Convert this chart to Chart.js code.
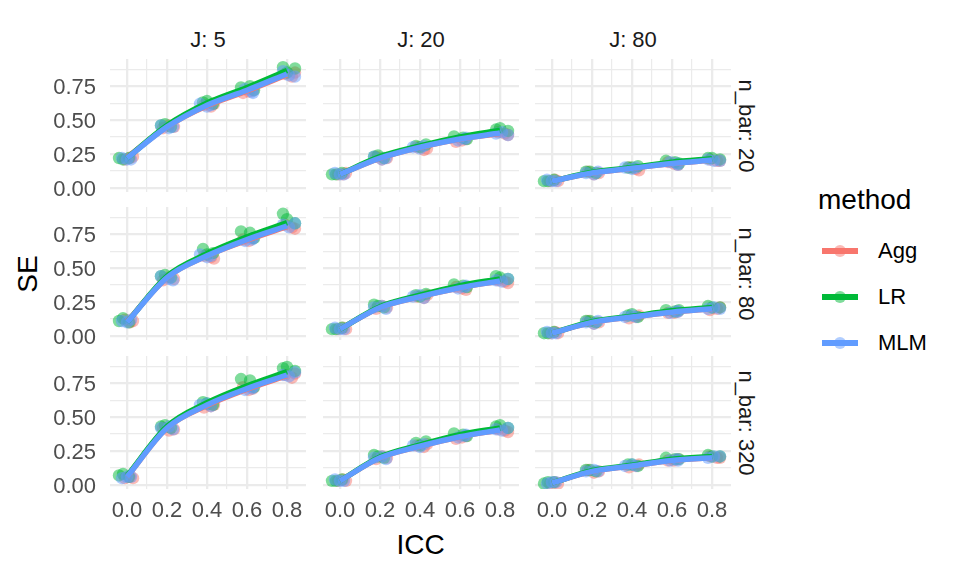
<!DOCTYPE html>
<html>
<head>
<meta charset="utf-8">
<script src="https://cdn.jsdelivr.net/npm/chart.js@4.4.1/dist/chart.umd.min.js"></script>
<style>
  body { margin: 0; background: #fff; font-family: "Liberation Sans", Arial, sans-serif; }
  #wrap { position: relative; width: 960px; height: 576px; overflow: hidden; }
  canvas { position: absolute; }
  .txt { position: absolute; white-space: nowrap; transform: translate(-50%, -50%); line-height: 1; }
  .strip { font-size: 22px; color: #1a1a1a; }
  .title { font-size: 28px; color: #000; }
  .key { position: absolute; width: 36px; height: 12px; }
  .key .dot { position: absolute; left: 12px; top: 0; width: 12px; height: 12px; border-radius: 50%; }
  .key .bar { position: absolute; left: 0; top: 3.25px; width: 36px; height: 5.5px; }
  .lab { position: absolute; font-size: 22px; color: #000; transform: translateY(-50%); line-height: 1; }
</style>
</head>
<body>
<div id="wrap"></div>
<script>
// facets
const jValues = [5, 20, 80];
const nBarValues = [20, 80, 320];
const methods = ["Agg", "LR", "MLM"];
const colors = ["#F8766D", "#00BA38", "#619CFF"];
const dotColors = ["rgba(248,118,109,0.5)", "rgba(0,186,56,0.5)", "rgba(97,156,255,0.5)"];

// x: ICC levels, tick labels and grid
const iccLevels = [0, 0.2, 0.4, 0.6, 0.8];
const xMajor = [0, 0.2, 0.4, 0.6, 0.8];
const xGrid = [0, 0.1, 0.2, 0.3, 0.4, 0.5, 0.6, 0.7, 0.8];
const yMajor = [0, 0.25, 0.5, 0.75];
const yGrid = [0, 0.125, 0.25, 0.375, 0.5, 0.625, 0.75, 0.875];

// smooth lines, one row per panel (J: 5, 20, 80 for n_bar 20, then 80, then 320)
const aggLine = [
  [0.225, 0.45, 0.605, 0.715, 0.835],
  [0.10, 0.22, 0.30, 0.36, 0.40],
  [0.05, 0.11, 0.145, 0.18, 0.205],
  [0.105, 0.43, 0.59, 0.705, 0.805],
  [0.05, 0.21, 0.29, 0.355, 0.405],
  [0.02, 0.10, 0.14, 0.175, 0.20],
  [0.06, 0.42, 0.585, 0.705, 0.805],
  [0.03, 0.20, 0.285, 0.355, 0.405],
  [0.015, 0.10, 0.14, 0.18, 0.20]
];
const lrLine = [
  [0.22, 0.46, 0.625, 0.74, 0.865],
  [0.10, 0.23, 0.31, 0.375, 0.425],
  [0.05, 0.115, 0.15, 0.19, 0.215],
  [0.10, 0.44, 0.605, 0.73, 0.835],
  [0.05, 0.215, 0.30, 0.37, 0.42],
  [0.02, 0.105, 0.145, 0.185, 0.21],
  [0.065, 0.43, 0.605, 0.73, 0.835],
  [0.03, 0.205, 0.295, 0.37, 0.42],
  [0.015, 0.105, 0.145, 0.19, 0.21]
];
const mlmLine = [
  [0.22, 0.45, 0.61, 0.72, 0.84],
  [0.10, 0.22, 0.30, 0.36, 0.405],
  [0.05, 0.11, 0.145, 0.18, 0.205],
  [0.10, 0.43, 0.59, 0.71, 0.81],
  [0.05, 0.21, 0.29, 0.355, 0.405],
  [0.02, 0.10, 0.14, 0.175, 0.20],
  [0.06, 0.42, 0.59, 0.71, 0.81],
  [0.03, 0.20, 0.285, 0.355, 0.405],
  [0.015, 0.10, 0.14, 0.18, 0.20]
];

// points: per panel, per ICC level, three replicates
const aggPts = [
  [[0.23,0.22,0.21],[0.45,0.44,0.46],[0.60,0.61,0.62],[0.71,0.72,0.70],[0.82,0.84,0.85]],
  [[0.11,0.10,0.10],[0.22,0.23,0.21],[0.28,0.30,0.29],[0.35,0.36,0.34],[0.40,0.41,0.39]],
  [[0.05,0.06,0.05],[0.11,0.12,0.10],[0.14,0.15,0.13],[0.18,0.17,0.19],[0.20,0.21,0.20]],
  [[0.11,0.10,0.12],[0.42,0.41,0.43],[0.58,0.59,0.57],[0.70,0.72,0.71],[0.80,0.82,0.79]],
  [[0.05,0.06,0.05],[0.21,0.20,0.22],[0.28,0.29,0.30],[0.35,0.34,0.36],[0.40,0.41,0.39]],
  [[0.02,0.03,0.02],[0.10,0.11,0.09],[0.14,0.13,0.15],[0.17,0.18,0.17],[0.20,0.19,0.21]],
  [[0.05,0.06,0.05],[0.41,0.42,0.40],[0.58,0.57,0.59],[0.70,0.71,0.72],[0.79,0.81,0.82]],
  [[0.03,0.04,0.03],[0.20,0.19,0.21],[0.28,0.29,0.30],[0.35,0.36,0.34],[0.40,0.41,0.39]],
  [[0.01,0.02,0.01],[0.10,0.11,0.09],[0.14,0.13,0.15],[0.18,0.19,0.18],[0.20,0.21,0.20]]
];
const lrPts = [
  [[0.22,0.21,0.22],[0.47,0.45,0.46],[0.63,0.62,0.64],[0.74,0.75,0.72],[0.89,0.88,0.85]],
  [[0.10,0.10,0.11],[0.24,0.22,0.23],[0.31,0.32,0.30],[0.38,0.37,0.36],[0.43,0.42,0.44]],
  [[0.05,0.05,0.06],[0.12,0.11,0.12],[0.15,0.16,0.15],[0.20,0.19,0.18],[0.22,0.21,0.22]],
  [[0.11,0.13,0.10],[0.45,0.43,0.44],[0.64,0.61,0.60],[0.77,0.76,0.72],[0.90,0.83,0.86]],
  [[0.05,0.05,0.06],[0.22,0.21,0.23],[0.30,0.31,0.29],[0.38,0.37,0.36],[0.44,0.42,0.43]],
  [[0.02,0.02,0.03],[0.11,0.10,0.11],[0.15,0.14,0.16],[0.19,0.18,0.19],[0.22,0.21,0.21]],
  [[0.07,0.08,0.06],[0.44,0.42,0.43],[0.61,0.59,0.60],[0.78,0.77,0.72],[0.86,0.84,0.87]],
  [[0.03,0.03,0.04],[0.21,0.20,0.22],[0.31,0.32,0.29],[0.38,0.37,0.36],[0.43,0.42,0.44]],
  [[0.01,0.02,0.02],[0.11,0.10,0.11],[0.15,0.14,0.15],[0.20,0.19,0.19],[0.22,0.21,0.21]]
];
const mlmPts = [
  [[0.21,0.22,0.21],[0.46,0.44,0.45],[0.62,0.60,0.61],[0.71,0.73,0.70],[0.86,0.83,0.82]],
  [[0.10,0.11,0.10],[0.23,0.21,0.22],[0.30,0.29,0.31],[0.36,0.35,0.37],[0.40,0.41,0.39]],
  [[0.05,0.06,0.05],[0.11,0.10,0.12],[0.15,0.14,0.15],[0.18,0.19,0.17],[0.21,0.20,0.20]],
  [[0.10,0.11,0.12],[0.44,0.42,0.41],[0.60,0.58,0.59],[0.71,0.70,0.72],[0.82,0.80,0.83]],
  [[0.05,0.06,0.05],[0.21,0.22,0.20],[0.29,0.30,0.28],[0.36,0.35,0.37],[0.41,0.40,0.42]],
  [[0.02,0.03,0.02],[0.10,0.09,0.11],[0.14,0.15,0.14],[0.18,0.17,0.18],[0.20,0.21,0.20]],
  [[0.06,0.05,0.06],[0.42,0.43,0.41],[0.59,0.60,0.58],[0.71,0.70,0.72],[0.81,0.80,0.83]],
  [[0.03,0.04,0.03],[0.20,0.21,0.19],[0.29,0.28,0.30],[0.36,0.35,0.37],[0.41,0.40,0.42]],
  [[0.02,0.01,0.02],[0.10,0.11,0.10],[0.14,0.15,0.14],[0.19,0.18,0.18],[0.20,0.21,0.21]]
];

// horizontal jitter of the points
const aggJitter = [[0.03,0.015,-0.01],[0.035,-0.02,0.01],[0.02,-0.015,0.035],[0.01,0.03,-0.02],[0.025,-0.01,0.04]];
const lrJitter = [[-0.04,-0.02,0.01],[-0.01,0.02,-0.03],[-0.02,0.03,0.0],[-0.03,0.015,0.035],[-0.02,0.04,0.0]];
const mlmJitter = [[0.0,-0.025,0.02],[-0.03,0.01,0.03],[-0.035,0.0,0.02],[0.025,-0.01,0.03],[-0.02,0.01,0.04]];

const lines = [aggLine, lrLine, mlmLine];
const pts = [aggPts, lrPts, mlmPts];
const jitters = [aggJitter, lrJitter, mlmJitter];

// panel geometry
const panelLeft = [110, 323, 535];
const panelTop = [59, 207, 356];
const panelW = 196, panelH = 133;
const xMin = -0.085, xMax = 0.895, yMin = -0.03, yMax = 0.95;
const gridColor = "#EBEBEB";
const tickFont = { family: "'Liberation Sans', Arial, sans-serif", size: 22 };

const wrap = document.getElementById("wrap");

function addText(cls, text, x, y, rotate) {
  const d = document.createElement("div");
  d.className = "txt " + cls;
  d.textContent = text;
  d.style.left = x + "px";
  d.style.top = y + "px";
  if (rotate) d.style.transform = "translate(-50%, -50%) rotate(" + rotate + "deg)";
  wrap.appendChild(d);
}

function zeroPad(s) {
  s.paddingLeft = 0; s.paddingRight = 0; s.paddingTop = 0; s.paddingBottom = 0;
}

function buildPanel(row, col) {
  const p = row * 3 + col;
  const showY = col === 0, showX = row === 2;
  const yAxisW = showY ? 60 : 0;
  const xAxisH = showX ? 40 : 0;
  const padBottom = showX ? 0 : 15;

  const canvas = document.createElement("canvas");
  canvas.width = panelW + yAxisW;
  canvas.height = panelH + xAxisH + padBottom;
  canvas.style.left = (panelLeft[col] - yAxisW) + "px";
  canvas.style.top = panelTop[row] + "px";
  wrap.appendChild(canvas);

  const datasets = [];
  // lines: MLM on top, then LR, then Agg
  for (let m = 0; m < 3; m++) {
    datasets.push({
      label: methods[m] + " smooth",
      data: iccLevels.map((x, i) => ({ x: x, y: lines[m][p][i] })),
      showLine: true,
      borderColor: colors[m],
      borderWidth: 5.5,
      pointRadius: 0,
      cubicInterpolationMode: "monotone",
      order: 2 - m
    });
  }
  // points under the lines
  for (let m = 0; m < 3; m++) {
    const data = [];
    iccLevels.forEach((x, i) => {
      pts[m][p][i].forEach((y, k) => data.push({ x: x + jitters[m][i][k], y: y }));
    });
    datasets.push({
      label: methods[m],
      data: data,
      showLine: false,
      pointRadius: 6.2,
      pointBorderWidth: 0,
      backgroundColor: dotColors[m],
      order: 5 - m
    });
  }

  new Chart(canvas, {
    type: "scatter",
    data: { datasets: datasets },
    options: {
      responsive: false,
      animation: false,
      layout: { autoPadding: false, padding: { left: 0, right: 0, top: 0, bottom: padBottom } },
      plugins: { legend: { display: false }, tooltip: { enabled: false } },
      scales: {
        x: {
          type: "linear",
          min: xMin,
          max: xMax,
          afterBuildTicks: (s) => { s.ticks = xGrid.map((v) => ({ value: v })); },
          afterFit: (s) => { s.height = xAxisH; zeroPad(s); },
          border: { display: false },
          grid: {
            color: gridColor,
            drawTicks: false,
            lineWidth: (ctx) => (ctx.tick && xMajor.includes(ctx.tick.value) ? 2.3 : 1.2)
          },
          ticks: {
            display: showX,
            autoSkip: false,
            maxRotation: 0,
            padding: 9,
            color: "#4D4D4D",
            font: tickFont,
            callback: (v) => (xMajor.includes(v) ? v.toFixed(1) : "")
          }
        },
        y: {
          type: "linear",
          min: yMin,
          max: yMax,
          afterBuildTicks: (s) => { s.ticks = yGrid.map((v) => ({ value: v })); },
          afterFit: (s) => { s.width = yAxisW; zeroPad(s); },
          border: { display: false },
          grid: {
            color: gridColor,
            drawTicks: false,
            lineWidth: (ctx) => (ctx.tick && yMajor.includes(ctx.tick.value) ? 2.3 : 1.2)
          },
          ticks: {
            display: showY,
            autoSkip: false,
            padding: 14,
            labelOffset: 2,
            color: "#4D4D4D",
            font: tickFont,
            callback: (v) => (yMajor.includes(v) ? v.toFixed(2) : "")
          }
        }
      }
    }
  });
}

for (let r = 0; r < 3; r++) {
  for (let c = 0; c < 3; c++) buildPanel(r, c);
}

// strips
jValues.forEach((j, c) => addText("strip", "J: " + j, panelLeft[c] + panelW / 2, 40));
nBarValues.forEach((n, r) => addText("strip", "n_bar: " + n, 746, panelTop[r] + panelH / 2, 90));

// axis titles
addText("title", "ICC", (panelLeft[0] + panelLeft[2] + panelW) / 2, 545);
addText("title", "SE", 28, 274, -90);

// legend
const legTitle = document.createElement("div");
legTitle.className = "lab";
legTitle.style.fontSize = "28px";
legTitle.style.left = "818px";
legTitle.style.top = "200px";
legTitle.textContent = "method";
wrap.appendChild(legTitle);

methods.forEach((name, m) => {
  const y = 251 + m * 46;
  const key = document.createElement("div");
  key.className = "key";
  key.style.left = "822px";
  key.style.top = (y - 6) + "px";
  key.innerHTML = '<div class="dot" style="background:' + dotColors[m] + '"></div>' +
    '<div class="bar" style="background:' + colors[m] + '"></div>';
  wrap.appendChild(key);

  const lab = document.createElement("div");
  lab.className = "lab";
  lab.style.left = "878px";
  lab.style.top = y + "px";
  lab.textContent = name;
  wrap.appendChild(lab);
});
</script>
</body>
</html>
